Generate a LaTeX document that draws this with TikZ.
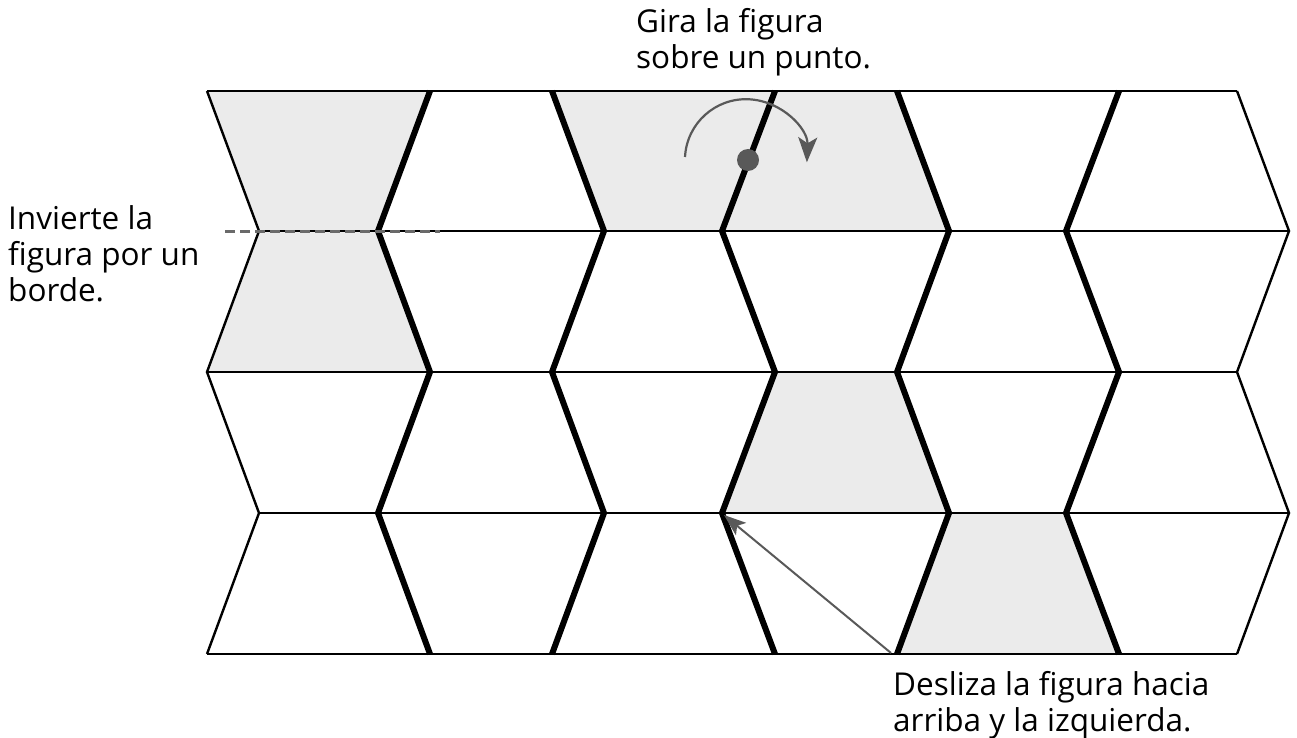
\documentclass[tikz,border=0pt]{standalone}
\usepackage{fontspec}
\setmainfont{Open Sans}
\usetikzlibrary{arrows.meta}
\definecolor{shade}{HTML}{EBEBEB}
\definecolor{arrowgray}{HTML}{595959}
\tikzset{
  thinline/.style={line width=2.4pt, black},
  thickline/.style={line width=6pt, black},
  cellfill/.style={fill=shade, draw=none},
  annot/.style={font=\fontsize{31.5}{36}\selectfont, align=left, inner sep=0pt, anchor=base west},
  graylink/.style={arrowgray, line width=2.2pt}
}
\begin{document}
\begin{tikzpicture}[x=1pt,y=-1pt]
\useasboundingbox (0,0) rectangle (1297,738);
% shaded cells
\fill[cellfill] (207,91) -- (430,91) -- (378,231) -- (259,231) -- cycle;
\fill[cellfill] (259,231) -- (378,231) -- (430,372) -- (207,372) -- cycle;
\fill[cellfill] (552,91) -- (897,91) -- (949,231) -- (604,231) -- cycle;
\fill[cellfill] (775,372) -- (897,372) -- (949,513) -- (722,513) -- cycle;
\fill[cellfill] (949,513) -- (1066,513) -- (1119,654) -- (897,654) -- cycle;
% horizontal lines
\draw[thinline] (207,91) -- (1237,91);
\draw[thinline] (259,231) -- (1289,231);
\draw[thinline] (207,372) -- (1237,372);
\draw[thinline] (259,513) -- (1289,513);
\draw[thinline] (207,654) -- (1237,654);
% outer boundaries
\draw[thinline] (207,91) -- (259,231) -- (207,372) -- (259,513) -- (207,654);
\draw[thinline] (1237,91) -- (1289,231) -- (1237,372) -- (1289,513) -- (1237,654);
% interior zigzags
\draw[thickline] (430,91) -- (378,231) -- (430,372) -- (378,513) -- (430,654);
\draw[thickline] (552,91) -- (604,231) -- (552,372) -- (604,513) -- (552,654);
\draw[thickline] (775,91) -- (722,231) -- (775,372) -- (722,513) -- (775,654);
\draw[thickline] (897,91) -- (949,231) -- (897,372) -- (949,513) -- (897,654);
\draw[thickline] (1119,91) -- (1066,231) -- (1119,372) -- (1066,513) -- (1119,654);
% reflection axis
\draw[arrowgray!90, line width=3pt, dash pattern=on 10pt off 5pt] (225,231) -- (440,231);
% rotation
\coordinate (pivot) at (748,160);
\draw[graylink, -{Stealth[length=25pt, width=19pt, inset=6pt]}] (685,157) arc[start angle=183, end angle=362, radius=61];
\fill[arrowgray] (pivot) circle (11);
% slide
\coordinate (slidefrom) at (891,653);
\coordinate (slideto) at (724,515);
\draw[graylink, line width=2pt, -{Stealth[length=22pt, width=16pt, inset=5pt]}] (slidefrom) -- (slideto);
% labels
\node[annot] (rot) at (636,69) {Gira la figura\\sobre un punto.};
\node[annot] (refl) at (8,301) {Invierte la\\figura por un\\borde.};
\node[annot] (slide) at (893,731) {Desliza la figura hacia\\arriba y la izquierda.};
\end{tikzpicture}
\end{document}
